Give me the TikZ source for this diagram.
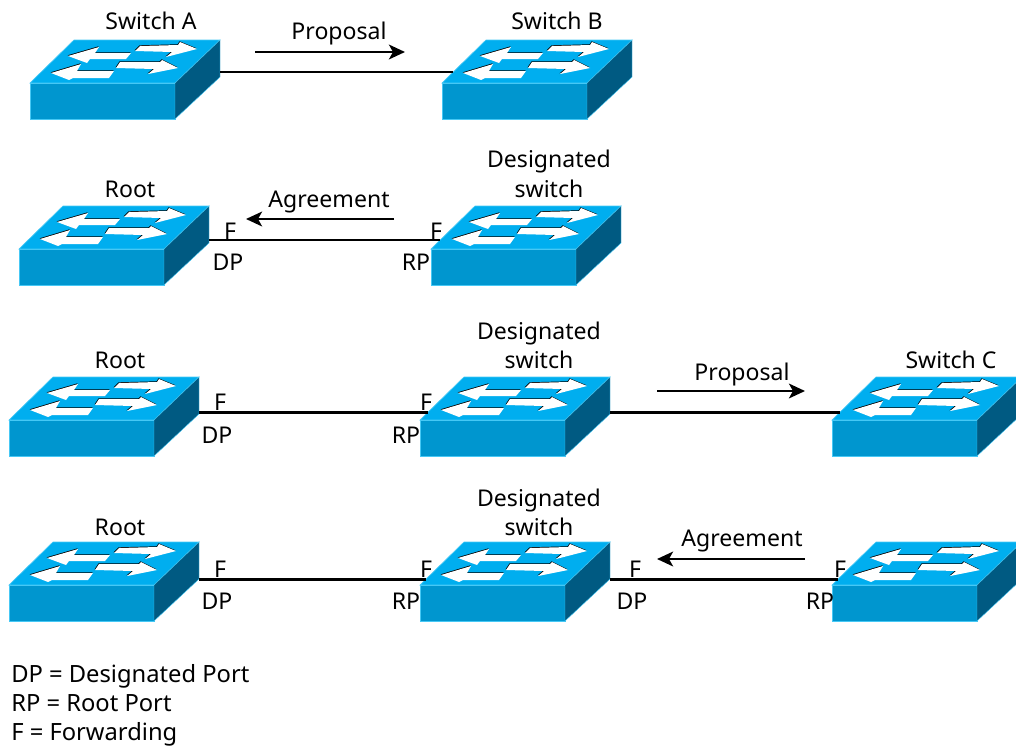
\documentclass[tikz,border=0pt]{standalone}
\usepackage{fontspec}
\setmainfont{Noto Sans}
\usetikzlibrary{arrows.meta,positioning}
\definecolor{swtop}{RGB}{0,174,239}
\definecolor{swfront}{RGB}{0,150,207}
\definecolor{swside}{RGB}{0,90,130}
\definecolor{swedge}{RGB}{70,200,245}
\tikzset{
  lbl/.style={font=\fontsize{17.3}{20}\selectfont, inner sep=0pt, text=black, text height=14pt, text depth=2pt},
  legend/.style={lbl, font=\fontsize{17.8}{20}\selectfont, anchor=west},
  link/.style={black, line width=1.6pt},
  flow/.style={black, line width=2pt, -{Stealth[length=12pt,width=11pt,inset=3pt]}},
  pics/switchicon/.style={code={
    % Body
    \fill[swtop, draw=swedge, line width=0.5pt] (0,0) -- (44,-43) -- (190,-43) -- (145,0) -- cycle;
    \fill[swfront, draw=swedge, line width=0.5pt] (0,0) rectangle (145,36);
    \fill[swside, draw=swedge, line width=0.3pt] (145,0) -- (190,-43) -- (190,-6) -- (145,36) -- cycle;
    % White arrows, with a thin black edge behind
    \foreach \col/\dx/\dy in {black/-0.4/-0.7, white/0/0} {
      \begin{scope}[shift={(\dx,\dy)}]
        \fill[\col] (110,-37) -- (148,-38) -- (150,-41) -- (167,-34) -- (136,-26) -- (142,-31) -- (105,-32) -- cycle;
        \fill[\col] (90,-21) -- (130,-21) -- (132,-23) -- (148,-15) -- (118,-9) -- (124,-14) -- (86,-15) -- cycle;
        \fill[\col] (38,-27) -- (69,-36) -- (65,-30) -- (101,-30) -- (96,-24) -- (60,-24) -- (57,-20) -- cycle;
        \fill[\col] (21,-10) -- (51,-19) -- (47,-12) -- (84,-12) -- (79,-5) -- (43,-5) -- (39,-3) -- cycle;
      \end{scope}
    }
    % Ports
    \coordinate (-in) at (#1,-#1);
    \coordinate (-out) at (190,-#1);
  }}
}
\begin{document}
\begin{tikzpicture}[x=0.75pt,y=-0.75pt]
\useasboundingbox (0,0) rectangle (1016,746);
% Row 1
\pic (swa) at (30,83) {switchicon=11};
\pic (swb) at (442,83) {switchicon=11};
\draw[link] (swa-out) -- (swb-in);
\coordinate (p1a) at (255,52);
\coordinate (p1b) at (405,52);
\draw[flow] (p1a) -- (p1b);
% Row 2
\pic (rootb) at (19,249) {switchicon=9};
\pic (desb) at (431,249) {switchicon=9};
\draw[link, line width=1.2pt] (rootb-out) -- (desb-in);
\coordinate (a2a) at (394,219);
\coordinate (a2b) at (246,219);
\draw[flow] (a2a) -- (a2b);
% Row 3
\pic (rootc) at (9,420) {switchicon=7.5};
\pic (desc) at (420,420) {switchicon=7.5};
\pic (swc) at (832,420) {switchicon=7.5};
\draw[link] (rootc-out) -- (desc-in);
\draw[link] (desc-out) -- (swc-in);
\coordinate (p3a) at (657,391);
\coordinate (p3b) at (805,391);
\draw[flow] (p3a) -- (p3b);
% Row 4
\pic (rootd) at (9,585) {switchicon=5.5};
\pic (desd) at (420,585) {switchicon=5.5};
\pic (swd) at (832,585) {switchicon=5.5};
\draw[link] (rootd-out) -- (desd-in);
\draw[link] (desd-out) -- (swd-in);
\coordinate (a4a) at (805,559);
\coordinate (a4b) at (657,559);
\draw[flow] (a4a) -- (a4b);
% Labels
\foreach \n/\x/\y/\txt in {
  nswa/151/21/Switch A, nswb/557/21/Switch B, nprop1/339/31/Proposal,
  nroot2/130/189/Root, ndes2/549/159/Designated, nsw2/549/189/switch, nagr2/329/199/Agreement,
  nf2a/230/231/F, ndp2/228/262/DP, nf2b/436/231/F, nrp2/416/262/RP,
  nroot3/120/360/Root, ndes3/539/331/Designated, nsw3/539/360/switch, nprop3/742/372/Proposal, nswc/951/360/Switch C,
  nf3a/220/402/F, ndp3/217/435/DP, nf3b/426/402/F, nrp3/406/435/RP,
  nroot4/120/527/Root, ndes4/539/498/Designated, nsw4/539/527/switch, nagr4/742/538/Agreement,
  nf4a/220/569/F, ndp4a/217/601/DP, nf4b/426/569/F, nrp4a/406/601/RP,
  nf4c/635/569/F, ndp4b/632/601/DP, nf4d/840/569/F, nrp4b/820/601/RP} {
  \node[lbl] (\n) at (\x,\y) {\txt};
}
% Legend
\node[legend] (keydp) at (11,674) {DP = Designated Port};
\node[legend] (keyrp) at (11,703) {RP = Root Port};
\node[legend] (keyf) at (11,732) {F = Forwarding};
\end{tikzpicture}
\end{document}
